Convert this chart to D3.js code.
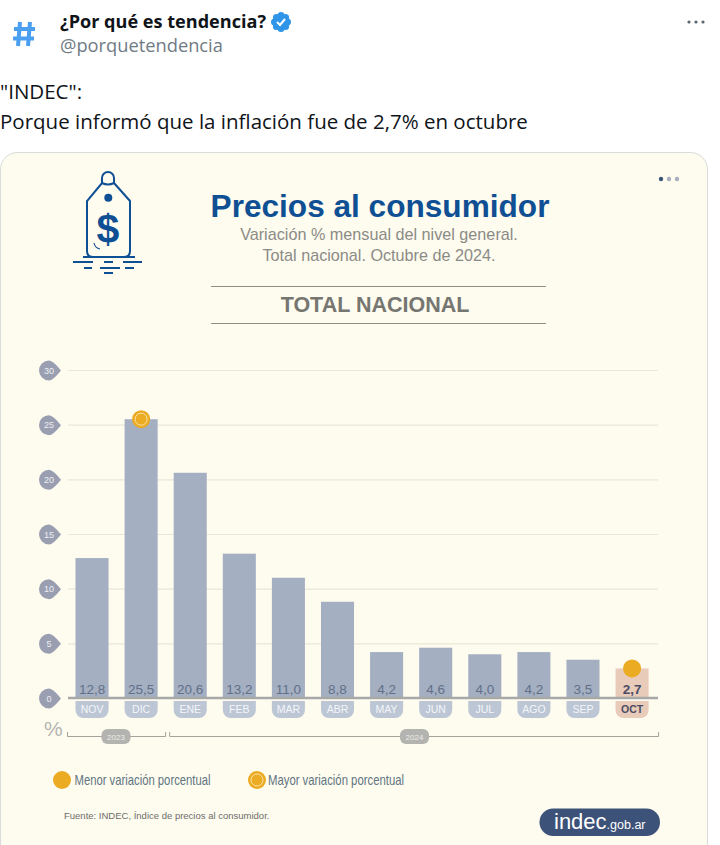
<!DOCTYPE html>
<html>
<head>
<meta charset="utf-8">
<script src="https://cdn.jsdelivr.net/npm/d3@7"></script>
<style>
  html, body { margin: 0; padding: 0; background: #fff; }
  svg { display: block; }
  text { font-family: "Liberation Sans", sans-serif; }
</style>
</head>
<body>
<svg id="chart"></svg>
<script>
const months = ['NOV', 'DIC', 'ENE', 'FEB', 'MAR', 'ABR', 'MAY', 'JUN', 'JUL', 'AGO', 'SEP', 'OCT'];
const values = [12.8, 25.5, 20.6, 13.2, 11.0, 8.8, 4.2, 4.6, 4.0, 4.2, 3.5, 2.7];
const yTicks = [0, 5, 10, 15, 20, 25, 30];
const years = [
  { label: '2023', from: 'NOV', to: 'DIC' },
  { label: '2024', from: 'ENE', to: 'OCT' }
];

const width = 720, height = 845;
const amber = '#ebab23';
const fmt = v => v.toFixed(1).replace('.', ',');

const svg = d3.select('#chart').attr('width', width).attr('height', height);

// tweet header
const tweetFont = '"Open Sans", sans-serif';
const hash = svg.append('g').attr('stroke', '#4a9ff0').attr('stroke-width', 4);
['M20,22 L18,46', 'M30,22 L28,46', 'M14,29 H35', 'M13,38.5 H34'].forEach(d => hash.append('path').attr('d', d));

svg.append('text').attr('x', 60).attr('y', 28)
  .style('font-family', tweetFont).style('font-weight', 'bold').style('font-size', '18.1px')
  .attr('fill', '#0f1419').text('¿Por qué es tendencia?');
svg.append('text').attr('x', 60).attr('y', 52)
  .style('font-family', tweetFont).style('font-size', '18.3px')
  .attr('fill', '#6f7b85').text('@porquetendencia');

const badge = svg.append('g').attr('transform', 'translate(281,22)');
d3.range(8).forEach(i => {
  const a = i * Math.PI / 4;
  badge.append('circle').attr('cx', 6.5 * Math.cos(a)).attr('cy', 6.5 * Math.sin(a)).attr('r', 3.5).attr('fill', '#2f95e8');
});
badge.append('circle').attr('r', 7.5).attr('fill', '#2f95e8');
badge.append('path').attr('d', 'M-4,0 L-1,3 L4,-3').attr('fill', 'none').attr('stroke', '#fff').attr('stroke-width', 2);

[689, 696, 703].forEach(x => svg.append('circle').attr('cx', x).attr('cy', 22).attr('r', 1.6).attr('fill', '#5b6670'));

svg.append('text').attr('x', 0).attr('y', 99)
  .style('font-family', tweetFont).style('font-size', '20.5px').attr('fill', '#0f1419').text('"INDEC":');
svg.append('text').attr('x', 0).attr('y', 129)
  .style('font-family', tweetFont).style('font-size', '20.5px').attr('fill', '#0f1419')
  .text('Porque informó que la inflación fue de 2,7% en octubre');

// card
svg.append('rect').attr('x', 0.5).attr('y', 152.5).attr('width', 707).attr('height', 800).attr('rx', 17)
  .attr('fill', '#fefbef').attr('stroke', '#d9dcdc');

[[661, '#3d5278'], [669, '#a9afbb'], [677, '#a9afbb']].forEach(d =>
  svg.append('circle').attr('cx', d[0]).attr('cy', 179).attr('r', 2.2).attr('fill', d[1]));

// price tag icon
const navy = '#0f4f93';
const icon = svg.append('g').attr('fill', 'none').attr('stroke', navy).attr('stroke-width', 2);
icon.append('path').attr('d', 'M102,183 L102,178 A6,6 0 0 1 114,178 L114,183 Q108,186 102,183 L87,201 L87,251 Q87,257 93,257 L124,257 Q130,257 130,251 L130,201 L114,183');
icon.append('path').attr('d', 'M83,257 L135,257');
[[73, 93, 262], [104, 113, 262], [123, 142, 262], [84, 92, 268], [100, 120, 268], [125, 134, 268], [104, 113, 273]].forEach(d =>
  icon.append('path').attr('d', `M${d[0]},${d[2]} L${d[1]},${d[2]}`));
icon.append('path').attr('d', 'M94,243 Q95,248 100,249').attr('stroke-width', 1.2);
svg.append('circle').attr('cx', 108.3).attr('cy', 197.7).attr('r', 4).attr('fill', navy);
svg.append('text').attr('x', 108).attr('y', 243).attr('text-anchor', 'middle')
  .style('font-weight', 'bold').style('font-size', '41px').attr('fill', navy).text('$');

// titles
svg.append('text').attr('x', 380).attr('y', 217).attr('text-anchor', 'middle')
  .style('font-weight', 'bold').style('font-size', '31.6px').attr('fill', '#0f4f93').text('Precios al consumidor');
svg.append('text').attr('x', 379).attr('y', 240).attr('text-anchor', 'middle')
  .style('font-size', '16.2px').attr('fill', '#8b8b86').text('Variación % mensual del nivel general.');
svg.append('text').attr('x', 379).attr('y', 261).attr('text-anchor', 'middle')
  .style('font-size', '16.2px').attr('fill', '#8b8b86').text('Total nacional. Octubre de 2024.');
[286.5, 323.5].forEach(y => svg.append('line').attr('x1', 211).attr('x2', 546).attr('y1', y).attr('y2', y).attr('stroke', '#8f8f86'));
svg.append('text').attr('x', 375).attr('y', 312).attr('text-anchor', 'middle')
  .style('font-weight', 'bold').style('font-size', '21.5px').attr('fill', '#767671').text('TOTAL NACIONAL');

// scales
const x = d3.scaleBand().domain(months).range([67.5, 656.6]).paddingInner(0.327).paddingOuter(0.163);
const y = d3.scaleLinear().domain([0, 30]).range([698, 370]);

// y axis with gridlines and teardrop labels
const yAxis = svg.append('g').attr('transform', 'translate(68,0)')
  .call(d3.axisLeft(y).tickValues(yTicks).tickSize(-590).tickFormat(d => d));
yAxis.select('.domain').remove();
yAxis.selectAll('.tick line').attr('stroke', '#e9e7d8').attr('stroke-width', 1.2);
yAxis.selectAll('.tick').insert('path', 'text')
  .attr('transform', 'translate(-19,0)')
  .attr('d', 'M0,-10 A10,10 0 1 0 0,10 Q4,10 12,0 Q4,-10 0,-10 Z')
  .attr('fill', '#9a9eb1');
yAxis.selectAll('.tick text').attr('x', -19).attr('dy', '0.34em').attr('text-anchor', 'middle')
  .attr('fill', '#eceef3').style('font-size', '9px');

// bars
svg.append('g').selectAll('rect').data(months).join('rect')
  .attr('x', d => x(d))
  .attr('width', x.bandwidth())
  .attr('y', (d, i) => y(values[i]))
  .attr('height', (d, i) => y(0) - y(values[i]))
  .attr('fill', d => d === 'OCT' ? '#e8cbb9' : '#a4afc2');

svg.append('g').selectAll('text').data(months).join('text')
  .attr('x', d => x(d) + x.bandwidth() / 2)
  .attr('y', 694)
  .attr('text-anchor', 'middle')
  .style('font-size', '13.5px')
  .style('font-weight', d => d === 'OCT' ? 'bold' : 'normal')
  .attr('fill', d => d === 'OCT' ? '#4b4d66' : '#626f88')
  .text((d, i) => fmt(values[i]));

// month tabs under the axis
const xAxis = svg.append('g').attr('transform', 'translate(0,698)')
  .call(d3.axisBottom(x).tickSize(0).tickPadding(0));
xAxis.select('.domain').attr('stroke', '#a7a9a8').attr('stroke-width', 2.5).attr('d', 'M68,0 H658');
const bw = x.bandwidth();
xAxis.selectAll('.tick').insert('path', 'text')
  .attr('d', `M${-bw / 2},3 H${bw / 2} V12 A8,8 0 0 1 ${bw / 2 - 8},20 H${-bw / 2 + 8} A8,8 0 0 1 ${-bw / 2},12 Z`)
  .attr('fill', d => d === 'OCT' ? '#e8cbb9' : '#bcc6d5');
xAxis.selectAll('.tick text').attr('y', 11).attr('dy', '0.34em')
  .style('font-size', '10.5px')
  .style('font-weight', d => d === 'OCT' ? 'bold' : 'normal')
  .attr('fill', d => d === 'OCT' ? '#4b4d66' : '#f4f6f8');

// markers for lowest and highest
const marker = (cx, cy, ring) => {
  svg.append('circle').attr('cx', cx).attr('cy', cy).attr('r', 9).attr('fill', amber);
  if (ring) svg.append('circle').attr('cx', cx).attr('cy', cy).attr('r', 6).attr('fill', amber).attr('stroke', '#fbe3a8').attr('stroke-width', 1);
};
const centre = m => x(m) + x.bandwidth() / 2;
marker(centre('DIC'), y(values[months.indexOf('DIC')]), true);
marker(centre('OCT'), y(values[months.indexOf('OCT')]), false);

// percent sign and year brackets
svg.append('text').attr('x', 44).attr('y', 736).style('font-size', '21px').attr('fill', '#b5b5b2').text('%');
years.forEach((yr, i) => {
  const x0 = x(yr.from) - (i ? 4 : 8);
  const x1 = x(yr.to) + bw + (i ? 10 : 8);
  svg.append('path').attr('d', `M${x0},732 V736.5 H${x1} V732`).attr('fill', 'none').attr('stroke', '#a3a39c');
  const cx = i ? 414.5 : 116;
  svg.append('rect').attr('x', cx - 14.5).attr('y', 729).attr('width', 29).attr('height', 15).attr('rx', 6).attr('fill', '#b3b3b0');
  svg.append('text').attr('x', cx).attr('y', 740).attr('text-anchor', 'middle').style('font-size', '8px').attr('fill', '#eeeeea').text(yr.label);
});

// legend
marker(62, 780, false);
marker(257, 780, true);
const legendText = (tx, s) => svg.append('text').attr('x', tx).attr('y', 785)
  .attr('textLength', 136).attr('lengthAdjust', 'spacingAndGlyphs')
  .style('font-size', '15px').attr('fill', '#5f7682').text(s);
legendText(74.5, 'Menor variación porcentual');
legendText(268, 'Mayor variación porcentual');

svg.append('text').attr('x', 64).attr('y', 819).style('font-size', '9.5px').attr('fill', '#6d6d6a')
  .text('Fuente: INDEC, Índice de precios al consumidor.');

// indec badge
svg.append('rect').attr('x', 539.5).attr('y', 808.5).attr('width', 120.5).attr('height', 27.5).attr('rx', 13.7).attr('fill', '#3d5278');
const logo = svg.append('text').attr('x', 554).attr('y', 829).attr('fill', '#fff');
logo.append('tspan').style('font-size', '22px').text('indec');
logo.append('tspan').style('font-size', '12.5px').text('.gob.ar');
</script>
</body>
</html>
